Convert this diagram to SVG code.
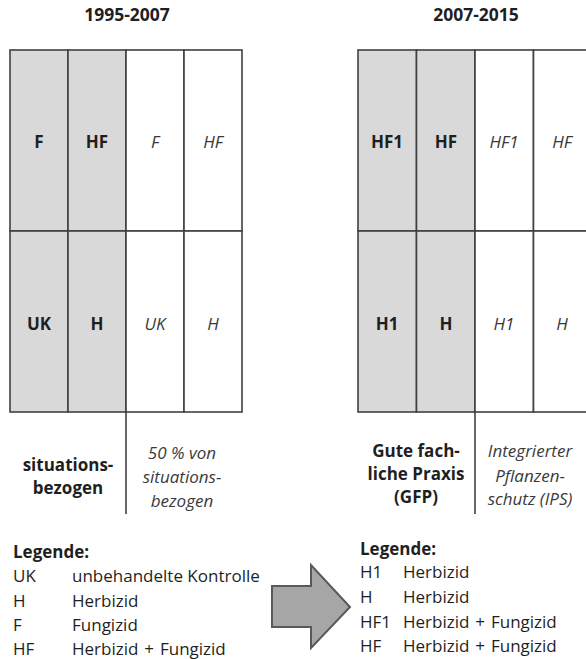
<svg xmlns="http://www.w3.org/2000/svg" width="586" height="659" viewBox="0 0 586 659">
<style>
text{font-family:"Open Sans","Noto Sans","DejaVu Sans",sans-serif;font-size:17px;fill:#1f1f1f}
.b{font-weight:bold}
.t{font-size:17.5px}
.i{font-style:italic;fill:#3a3a3a}
.c{text-anchor:middle}
.ws{word-spacing:1.5px}
.cell{stroke:#404040;stroke-width:1.6}
.g{fill:#d9d9d9}
.w{fill:#ffffff}
.div{stroke:#404040;stroke-width:1.6;fill:none}
</style>
<rect width="586" height="659" fill="#ffffff"/>
<g id="title-left"><text class="b c t" x="127" y="21">1995-2007</text></g>
<g id="title-right"><text class="b c t" x="476" y="21">2007-2015</text></g>
<g id="grid-left">
<rect class="cell g" x="10" y="50" width="58" height="181"/>
<rect class="cell g" x="68" y="50" width="58" height="181"/>
<rect class="cell w" x="126" y="50" width="58" height="181"/>
<rect class="cell w" x="184" y="50" width="58" height="181"/>
<rect class="cell g" x="10" y="231" width="58" height="181"/>
<rect class="cell g" x="68" y="231" width="58" height="181"/>
<rect class="cell w" x="126" y="231" width="58" height="181"/>
<rect class="cell w" x="184" y="231" width="58" height="181"/>
<text class="b c" x="39" y="148">F</text>
<text class="b c" x="97" y="148">HF</text>
<text class="i c" x="155" y="148">F</text>
<text class="i c" x="213" y="148">HF</text>
<text class="b c" x="39" y="330">UK</text>
<text class="b c" x="97" y="330">H</text>
<text class="i c" x="155" y="330">UK</text>
<text class="i c" x="213" y="330">H</text>
</g>
<g id="grid-right">
<rect class="cell g" x="358" y="50" width="58.5" height="181"/>
<rect class="cell g" x="416.5" y="50" width="58.5" height="181"/>
<rect class="cell w" x="475" y="50" width="58.5" height="181"/>
<rect class="cell w" x="533.5" y="50" width="58.5" height="181"/>
<rect class="cell g" x="358" y="231" width="58.5" height="181"/>
<rect class="cell g" x="416.5" y="231" width="58.5" height="181"/>
<rect class="cell w" x="475" y="231" width="58.5" height="181"/>
<rect class="cell w" x="533.5" y="231" width="58.5" height="181"/>
<text class="b c" x="387" y="148">HF1</text>
<text class="b c" x="446" y="148">HF</text>
<text class="i c" x="504" y="148">HF1</text>
<text class="i c" x="562" y="148">HF</text>
<text class="b c" x="387" y="330">H1</text>
<text class="b c" x="446" y="330">H</text>
<text class="i c" x="504" y="330">H1</text>
<text class="i c" x="562" y="330">H</text>
</g>
<g id="connectors">
<line class="div" x1="126" y1="412" x2="126" y2="514"/>
<line class="div" x1="475" y1="412" x2="475" y2="514"/>
</g>
<g id="label-left">
<text class="b c" x="68" y="471">situations-</text>
<text class="b c" x="68" y="494">bezogen</text>
<text class="i c" x="182" y="459">50 % von</text>
<text class="i c" x="182" y="483">situations-</text>
<text class="i c" x="182" y="507">bezogen</text>
</g>
<g id="label-right">
<text class="b c" x="416" y="457">Gute fach-</text>
<text class="b c" x="416" y="480">liche Praxis</text>
<text class="b c" x="416" y="503">(GFP)</text>
<text class="i c" x="530" y="457">Integrierter</text>
<text class="i c" x="530" y="482">Pflanzen-</text>
<text class="i c" x="530" y="505">schutz (IPS)</text>
</g>
<g id="legend-left">
<text class="b" x="13" y="558">Legende:</text>
<text x="13" y="582">UK</text><text x="72" y="582">unbehandelte Kontrolle</text>
<text x="13" y="607">H</text><text x="72" y="607">Herbizid</text>
<text x="13" y="631">F</text><text x="72" y="631">Fungizid</text>
<text x="13" y="655">HF</text><text class="ws" x="72" y="655">Herbizid + Fungizid</text>
</g>
<g id="arrow">
<polygon points="272,586 311,586 311,565 350,607 311,648 311,627 272,627" fill="#a6a6a6" stroke="#595959" stroke-width="2"/>
</g>
<g id="legend-right">
<text class="b" x="360" y="555">Legende:</text>
<text x="360" y="578">H1</text><text x="403" y="578">Herbizid</text>
<text x="360" y="603">H</text><text x="403" y="603">Herbizid</text>
<text x="360" y="628">HF1</text><text class="ws" x="403" y="628">Herbizid + Fungizid</text>
<text x="360" y="652">HF</text><text class="ws" x="403" y="652">Herbizid + Fungizid</text>
</g>
</svg>
